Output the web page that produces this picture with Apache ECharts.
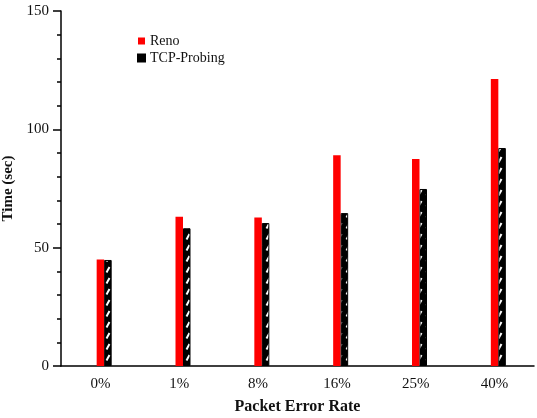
<!DOCTYPE html>
<html>
<head>
<meta charset="utf-8">
<script src="https://cdn.jsdelivr.net/npm/echarts@6/dist/echarts.min.js"></script>
<style>
  html, body { margin: 0; padding: 0; background: #fff; }
  #chart { width: 537px; height: 418px; }
</style>
</head>
<body>
<div id="chart"></div>
<script>
// 数据
const categories = ['0%', '1%', '8%', '16%', '25%', '40%'];
const renoTimes = [45, 63.1, 62.7, 89.1, 87.5, 121.3];
const probingTimes = [44.8, 58.2, 60.4, 64.6, 74.8, 92.1];
const yTicks = [0, 50, 100, 150];

const serif = 'Liberation Serif';
const textColor = '#111';

// 黑底白斜线的填充图案
const makeHatch = () => {
  const c = document.createElement('canvas');
  c.width = 8;
  c.height = 11;
  const ctx = c.getContext('2d');
  ctx.fillStyle = '#000';
  ctx.fillRect(0, 0, 8, 11);
  ctx.strokeStyle = '#fff';
  ctx.lineWidth = 2;
  ctx.beginPath();
  ctx.moveTo(2.5, 8.5);
  ctx.lineTo(5.5, 3);
  ctx.stroke();
  return c;
};

const myChart = echarts.init(document.getElementById('chart'), null, { renderer: 'canvas' });

const option = {
  backgroundColor: '#fff',
  animation: false,
  grid: { left: 61, right: 3, top: 11, bottom: 52, outerBoundsMode: 'none', containLabel: false },
  legend: {
    data: [
      { name: 'Reno', itemStyle: { color: '#ff0000' } },
      { name: 'TCP-Probing', itemStyle: { color: '#000', borderColor: '#000' } }
    ],
    orient: 'vertical',
    left: 132,
    top: 29,
    icon: 'rect',
    itemWidth: 7,
    itemHeight: 7,
    itemGap: 3,
    textStyle: { fontFamily: serif, fontSize: 14, color: textColor }
  },
  xAxis: {
    type: 'category',
    data: categories,
    name: 'Packet Error Rate',
    nameLocation: 'middle',
    nameGap: 33,
    nameTextStyle: { fontFamily: serif, fontSize: 16, fontWeight: 'bold', color: textColor },
    axisLine: { lineStyle: { color: '#000', width: 1.5 } },
    axisTick: { alignWithLabel: true, length: 5, lineStyle: { color: '#000', width: 1.5 } },
    axisLabel: { fontFamily: serif, fontSize: 15, color: textColor, margin: 11 }
  },
  yAxis: {
    type: 'value',
    min: yTicks[0],
    max: yTicks[yTicks.length - 1],
    interval: 50,
    name: 'Time (sec)',
    nameLocation: 'middle',
    nameGap: 42,
    nameTextStyle: { fontFamily: serif, fontSize: 15, fontWeight: 'bold', color: textColor },
    axisLine: { show: true, lineStyle: { color: '#000', width: 1.5 } },
    axisTick: { show: true, length: 8, lineStyle: { color: '#000', width: 1.5 } },
    minorTick: { show: true, splitNumber: 5, length: 4, lineStyle: { color: '#000', width: 1.5 } },
    splitLine: { show: false },
    axisLabel: { fontFamily: serif, fontSize: 15, color: textColor, margin: 12 }
  },
  series: [
    {
      // 占位，让红柱居中在刻度上
      name: 'spacer',
      type: 'bar',
      data: [],
      barWidth: 7.5,
      barGap: 0
    },
    {
      name: 'Reno',
      type: 'bar',
      data: renoTimes,
      barWidth: 7.5,
      barGap: 0,
      itemStyle: { color: '#ff0000' }
    },
    {
      name: 'TCP-Probing',
      type: 'bar',
      data: probingTimes,
      barWidth: 7.5,
      barGap: 0,
      itemStyle: {
        color: { image: makeHatch(), repeat: 'repeat' },
        borderColor: '#000',
        borderWidth: 1
      }
    }
  ]
};

myChart.setOption(option);
</script>
</body>
</html>
